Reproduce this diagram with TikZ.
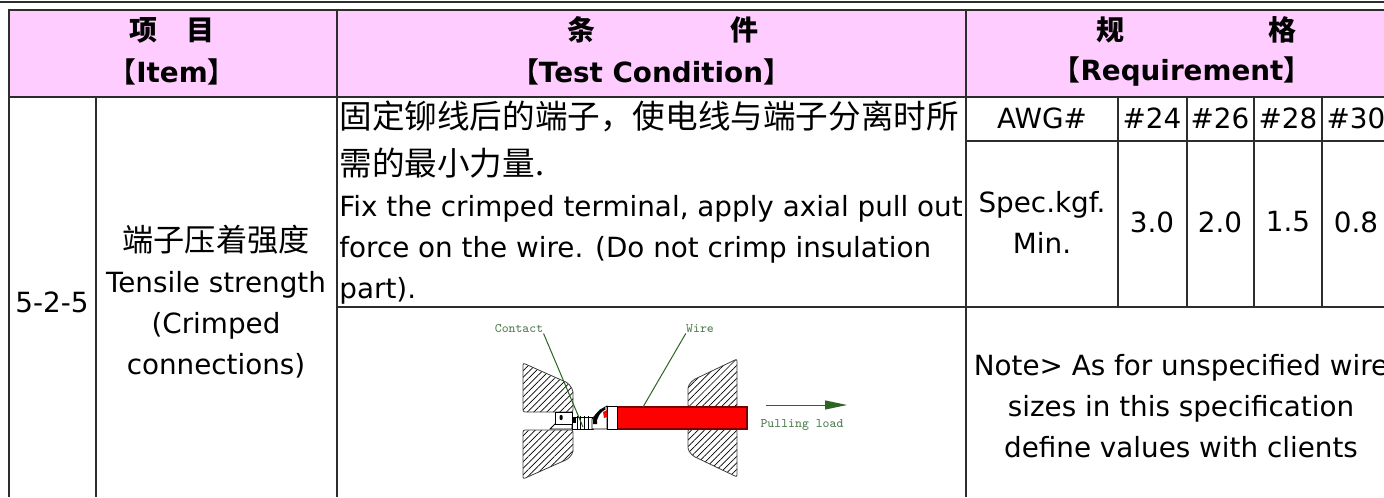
\documentclass[tikz,border=0pt]{standalone}
\usepackage{fontspec}
\setmainfont{DejaVu Sans}
\newfontfamily\cjk{Noto Sans CJK SC}
\usetikzlibrary{patterns.meta,arrows.meta}
\definecolor{headpink}{RGB}{255,204,255}
\definecolor{rulegray}{RGB}{45,45,45}
\definecolor{wirered}{RGB}{255,0,0}
\definecolor{wireedge}{RGB}{120,0,0}
\definecolor{labelgreen}{RGB}{80,125,80}
\definecolor{leadgreen}{RGB}{45,100,35}

\begin{document}
\begin{tikzpicture}[x=0.5pt,y=-0.5pt,
  body/.style={font=\fontsize{13.9}{20.5}\selectfont,inner sep=0pt},
  headlatin/.style={font=\fontsize{13.9}{20.5}\selectfont\bfseries,inner sep=0pt},
  headhanzi/.style={font=\fontsize{14}{20.5}\selectfont\cjk\bfseries,inner sep=0pt},
  rule/.style={draw=rulegray,line width=0.8pt},
  jaw/.style={draw=black!75,line width=0.4pt,pattern={Lines[angle=45,distance=2.3pt,line width=0.35pt]},rounded corners=1pt},
  termpart/.style={draw=black,line width=0.4pt,fill=white},
  labeltext/.style={font=\fontsize{6.5}{7}\selectfont\ttfamily,text=labelgreen,inner sep=0pt},
  leader/.style={draw=leadgreen,line width=0.5pt}]
\clip (0,0) rectangle (1384,497);
\draw[rulegray,line width=1pt] (0,2) -- (1384,2);
\fill[headpink] (9,10) rectangle (1400,97);
\draw[rule] (9,497) -- (9,10) -- (1400,10);
\draw[rule] (9,97) -- (1400,97);
\foreach \x in {337,966} \draw[rule] (\x,10) -- (\x,497);
\draw[rule] (96,97) -- (96,497);
\draw[rule] (337,307) -- (1400,307);
\draw[rule] (966,141) -- (1400,141);
\foreach \x in {1118,1187,1254,1322,1390} \draw[rule] (\x,97) -- (\x,307);

\node[headhanzi] (Item-cn) at (172,30) {项\hspace{15pt}目};
\node[headlatin] (Item-en) at (172,72) {{\cjk 【}Item{\cjk 】}};
\node[headhanzi] (Cond-cn) at (663,30) {条\hspace{67.5pt}件};
\node[headlatin] (Cond-en) at (651,72) {{\cjk 【}Test Condition{\cjk 】}};
\node[headhanzi] (Req-cn) at (1196,30) {规\hspace{72pt}格};
\node[headlatin] (Req-en) at (1182,72) {{\cjk 【}Requirement{\cjk 】}};

\node[body] (No) at (52,302) {5-2-5};
\node[body,align=center] (Name) at (216,302) {{\cjk\fontsize{15.6}{20.5}\selectfont 端子压着强度}\\Tensile strength\\(Crimped\\connections)};
\node[body,align=left,anchor=north west] (Cond) at (339,100) {{\cjk\fontsize{16.3}{20.5}\selectfont 固定铆线后的端子，使电线与端子分离时所}\\[3pt]{\cjk\fontsize{16.3}{20.5}\selectfont 需的最小力量.}\\Fix the crimped terminal, apply axial pull out\\force on the wire. (Do not crimp insulation\\part).};

\node[body] (AWG) at (1042,118) {AWG\#};
\node[body,align=center] (Spec) at (1042,222) {Spec.kgf.\\Min.};
\foreach \g/\v [count=\i] in {24/3.0,26/2.0,28/1.5,30/0.8}{
  \node[body] (G-\i) at ({1084+68*\i},118) {\#\g};
  \node[body] (V-\i) at ({1084+68*\i},222) {\v};
}
\node[body,align=center] (Note) at (1181,406) {Note> As for unspecified wire\\sizes in this specification\\define values with clients};

\draw[jaw] (523,363) -- (568,383) -- (573,390) -- (573,412) -- (523,412) -- cycle;
\draw[jaw] (523,430) -- (573,430) -- (573,453) -- (568,459) -- (523,479) -- cycle;
\draw[jaw] (737,359) -- (737,407) -- (688,407) -- (688,386) -- (693,380) -- cycle;
\draw[jaw] (688,429) -- (737,429) -- (737,477) -- (693,456) -- (688,450) -- cycle;
\draw[draw=wireedge,fill=wirered,line width=0.6pt] (617,407) rectangle (747,429);

\draw[termpart] (550,429) -- (555,424) -- (572,424) -- (572,429) -- cycle;
\draw[termpart] (555,412) rectangle (572,424);
\fill[black,rounded corners=0.5pt] (559.5,415) rectangle (562.5,420);
\draw[termpart] (572,417) rectangle (593,429);
\fill[black] (572,418) rectangle (576,423);
\foreach \x in {577,580,584,588} \draw[line width=0.4pt] (\x,416) -- (\x,429);
\draw[termpart] (592,429) -- (592,419) -- (600,410) -- (607,406) -- (607,429) -- cycle;
\fill[black] (593,424) -- (593,419) .. controls (597,412) .. (604,408) -- (606,409) .. controls (600,413) .. (597,420) -- (597,424) -- cycle;
\fill[wirered] (603,412) -- (607,410) -- (607,417) -- (604,418) -- cycle;
\draw[termpart] (607,406) rectangle (617,429);

\node[labeltext] (Contact) at (519,329) {Contact};
\node[labeltext] (Wire) at (700,329) {Wire};
\coordinate (ContactTip) at (583,427);
\coordinate (WireTip) at (643,407);
\draw[leader] (Contact.south east) -- (ContactTip);
\draw[leader] (Wire.south west) -- (WireTip);
\node[labeltext] (Load) at (802,425) {Pulling load};
\coordinate (LoadStart) at (766,405);
\coordinate (LoadEnd) at (847,405);
\draw[leader,-{Triangle[length=11pt,width=4.5pt]}] (LoadStart) -- (LoadEnd);
\end{tikzpicture}
\end{document}
